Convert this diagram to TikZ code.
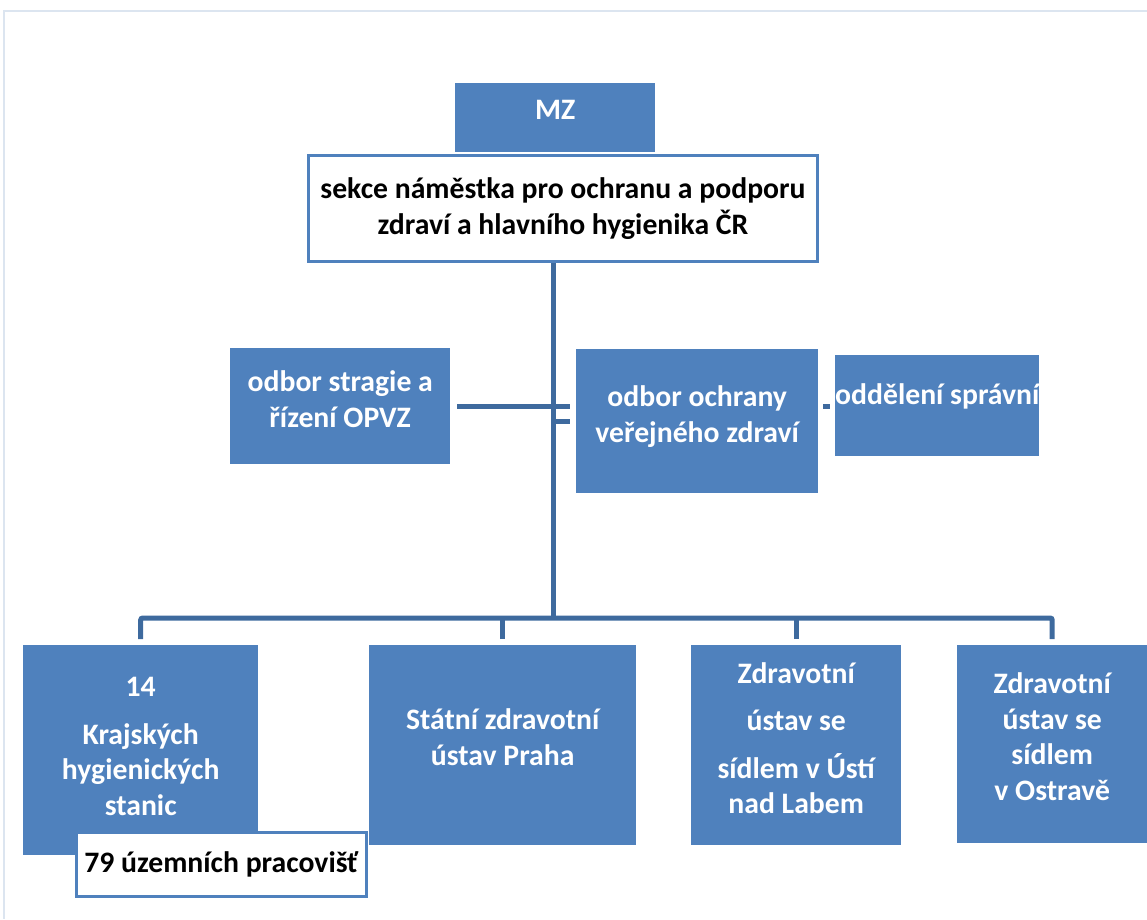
\documentclass[tikz,border=0pt]{standalone}
\usepackage{fontspec}
\setmainfont{Carlito}
\usetikzlibrary{calc}
\definecolor{boxblue}{HTML}{4F81BD}
\definecolor{lineblue}{HTML}{3E6A9E}
\definecolor{framegray}{HTML}{DCE5F0}
\tikzset{
	orgbox/.style={fill=boxblue, text=white, font=\bfseries\fontsize{29.7}{35.5}\selectfont, align=center, inner sep=0pt, anchor=north west},
	whitebox/.style={fill=white, draw=boxblue, line width=3pt, text=black, font=\bfseries\fontsize{29.7}{35.5}\selectfont, align=center, inner sep=0pt, anchor=north west},
	conn/.style={draw=lineblue, line width=5pt, rounded corners=2pt}
}

\begin{document}
\begin{tikzpicture}[x=1pt, y=-1pt]
		%%%%% START %%%%%
		\useasboundingbox (0, 0) rectangle (1147, 919);
		\draw[framegray, line width=2pt] (1147, 11) -- (4, 11) -- (4, 919);
		
		\node[orgbox, minimum width=200pt, minimum height=69pt, text depth=15pt] (mz) at (455, 83) {MZ};
		\node[whitebox, minimum width=509pt, minimum height=106pt] (sekce) at (307, 154) {sekce náměstka pro ochranu a podporu\\zdraví a hlavního hygienika ČR};
		
		\node[orgbox, minimum width=220pt, minimum height=116pt, text depth=14pt] (strat) at (230, 348) {odbor stragie a\\řízení OPVZ};
		\node[orgbox, minimum width=242pt, minimum height=144pt, text depth=14pt] (ochrana) at (576, 349) {odbor ochrany\\veřejného zdraví};
		\node[orgbox, minimum width=201pt, minimum height=101pt, text depth=23pt] (sprav) at (835, 355) {oddělení správní};
		
		\node[orgbox, minimum width=235pt, minimum height=210pt, text depth=8pt] (khs) at (23, 645) {14\\[12pt]Krajských\\hygienických\\stanic};
		\node[whitebox, line width=2.5pt, minimum width=290pt, minimum height=64pt] (uzemni) at (75, 831) {79 územních pracovišť};
		\node[orgbox, minimum width=267pt, minimum height=200pt, text depth=16pt] (szu) at (369, 645) {Státní zdravotní\\ústav Praha};
		\node[orgbox, minimum width=210pt, minimum height=200pt, text depth=14pt] (zuusti) at (691, 645) {Zdravotní\\[12pt]ústav se\\[12pt]sídlem v Ústí\\nad Labem};
		\node[orgbox, minimum width=190pt, minimum height=198pt, text depth=15pt] (zuostrava) at (957, 645) {Zdravotní\\ústav se\\sídlem\\v Ostravě};
		
		\coordinate (bus) at (553, 618);
		\draw[conn] (bus |- sekce.south) -- (bus);
		\draw[conn] ($(khs.north)+(0, -6)$) |- (bus) -| ($(zuostrava.north)+(0, -6)$);
		\draw[conn] ($(szu.north)+(0, -6)$) -- (szu.north |- bus);
		\draw[conn] ($(zuusti.north)+(0, -6)$) -- (zuusti.north |- bus);
		
		\draw[conn] ($(strat.east)+(7, 0)$) -- (bus |- strat.east);
		\draw[conn] (bus |- strat.east) -- ($(ochrana.west |- strat.east)+(-6, 0)$);
		\draw[conn] (bus |- ochrana.west) -- ($(ochrana.west)+(-6, 0)$);
		\draw[conn] ($(ochrana.east |- strat.east)+(5, 0)$) -- ++(7, 0);
		%%%%% END %%%%%
\end{tikzpicture}
\end{document}
